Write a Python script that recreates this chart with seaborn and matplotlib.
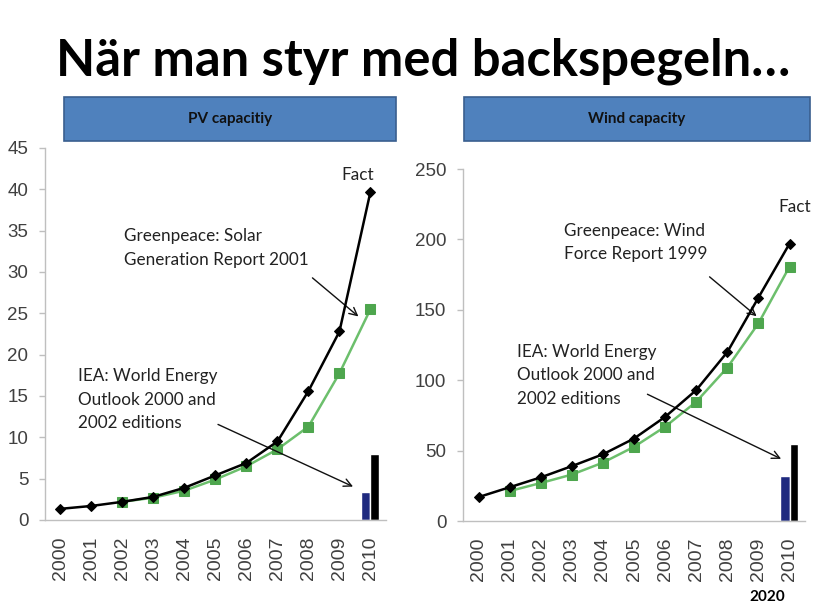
import numpy as np
import pandas as pd
import matplotlib
matplotlib.use("Agg")
import matplotlib.pyplot as plt
from matplotlib.patches import Rectangle
import seaborn as sns

# ---- data ----
years = ["2000", "2001", "2002", "2003", "2004", "2005", "2006", "2007", "2008", "2009", "2010"]
pv_fact = [1.35, 1.7, 2.2, 2.8, 3.9, 5.4, 6.9, 9.5, 15.6, 22.8, 39.7]
pv_greenpeace = [np.nan, np.nan, 2.2, 2.7, 3.55, 4.9, 6.5, 8.55, 11.3, 17.75, 25.5]
pv_iea_2010 = 3.4
pv_fact_2010_bar = 8.0

wind_fact = [17, 24, 31, 39, 47.4, 58.6, 74, 93, 120, 158.7, 197]
wind_greenpeace = [np.nan, 21.3, 27, 33, 41.5, 52.7, 67, 84.7, 109, 140.4, 180.7]
wind_iea_2010 = 32
wind_fact_2010_bar = 55

title = "När man styr med backspegeln…"
panel_titles = ["PV capacitiy", "Wind capacity"]

sns.set_theme(style="white")
plt.rcParams["font.family"] = ["Liberation Sans", "DejaVu Sans"]

BLACK = "#000000"
GREEN_LINE = "#6cbf6c"
GREEN_MARK = "#4ea64e"
NAVY = "#1f2a7f"
AX_GRAY = "#bfbfbf"
TXT = "#404040"
ANN_FONT = ["Lato", "DejaVu Sans"]
ANN_SIZE = 12.3

fig = plt.figure(figsize=(8.21, 6.05), dpi=100)
ax1 = fig.add_axes([0.0548, 0.1405, 0.4153, 0.615])
ax2 = fig.add_axes([0.564, 0.1388, 0.4166, 0.5818])

def draw_panel(ax, fact, gp, iea_bar, fact_bar, ymax, yticks):
    idx = np.arange(len(years))
    df = pd.DataFrame({"i": idx, "fact": fact, "gp": gp})
    sns.lineplot(data=df, x="i", y="gp", ax=ax, color=GREEN_LINE, lw=1.8,
                 marker="s", markersize=7.5, markerfacecolor=GREEN_MARK,
                 markeredgecolor=GREEN_MARK, zorder=3)
    sns.lineplot(data=df, x="i", y="fact", ax=ax, color=BLACK, lw=1.8,
                 marker="D", markersize=5.5, markerfacecolor=BLACK,
                 markeredgecolor=BLACK, zorder=4)
    last = idx[-1]
    ax.bar([last - 0.155], [iea_bar], width=0.31, color=NAVY, zorder=2)
    ax.bar([last + 0.14], [fact_bar], width=0.28, color=BLACK, zorder=2)
    ax.set_xlim(-0.5, len(years) - 0.5)
    ax.set_ylim(0, ymax)
    ax.set_yticks(yticks)
    ax.set_xticks(idx)
    ax.set_xticklabels(years, rotation=90)
    ax.set_xticks(np.arange(-0.5, len(years)), minor=True)
    ax.tick_params(axis="x", which="major", length=0, pad=12, labelsize=14, labelcolor=TXT)
    ax.tick_params(axis="x", which="minor", length=4, color=AX_GRAY, width=1, direction="out")
    ax.tick_params(axis="y", length=4, color=AX_GRAY, width=1, pad=8, labelsize=13.5,
                   labelcolor=TXT, direction="out", left=True)
    ax.set_xlabel("")
    ax.set_ylabel("")
    for s in ["top", "right"]:
        ax.spines[s].set_visible(False)
    for s in ["left", "bottom"]:
        ax.spines[s].set_color(AX_GRAY)
        ax.spines[s].set_linewidth(1)

draw_panel(ax1, pv_fact, pv_greenpeace, pv_iea_2010, pv_fact_2010_bar, 45, np.arange(0, 46, 5))
draw_panel(ax2, wind_fact, wind_greenpeace, wind_iea_2010, wind_fact_2010_bar, 250, np.arange(0, 251, 50))

arrow = dict(arrowstyle="->", color="#111111", lw=1.0, mutation_scale=14)
ann = dict(fontsize=ANN_SIZE, family=ANN_FONT, color="#222222")

# PV annotations
ax1.text(9.58, 41.7, "Fact", ha="center", va="center", **ann)
ax1.text(2.06, 35.3, "Greenpeace: Solar\nGeneration Report 2001", ha="left", va="top",
         linespacing=1.6, **ann)
ax1.annotate("", xy=(9.68, 24.4), xytext=(8.06, 29.5), arrowprops=arrow)
ax1.text(0.55, 18.4, "IEA: World Energy\nOutlook 2000 and\n2002 editions", ha="left", va="top",
         linespacing=1.6, **ann)
ax1.annotate("", xy=(9.52, 3.9), xytext=(5.0, 11.7), arrowprops=arrow)

# Wind annotations
ax2.text(10.15, 223, "Fact", ha="center", va="center", **ann)
ax2.text(2.74, 212, "Greenpeace: Wind\nForce Report 1999", ha="left", va="top",
         linespacing=1.6, **ann)
ax2.annotate("", xy=(9.01, 144.2), xytext=(7.36, 174.7), arrowprops=arrow)
ax2.text(1.24, 126, "IEA: World Energy\nOutlook 2000 and\n2002 editions", ha="left", va="top",
         linespacing=1.6, **ann)
ax2.annotate("", xy=(9.81, 43.3), xytext=(5.35, 90.9), arrowprops=arrow)

# Header boxes
for (x0, w), label in zip([(0.078, 0.404), (0.565, 0.421)], panel_titles):
    fig.patches.append(Rectangle((x0, 0.767), w, 0.0727, transform=fig.transFigure,
                                 facecolor="#4f81bd", edgecolor="#3a5f8f", lw=1.2, zorder=1))
    fig.text(x0 + w / 2, 0.767 + 0.0727 / 2, label, ha="center", va="center",
             fontsize=11, fontweight="bold", family=ANN_FONT, color="#111111")

# Title
fig.text(0.515, 0.898, title, ha="center", va="center", fontsize=36.5, fontweight="bold",
         family=ANN_FONT, color="#000000")

# footer text (shown small at the bottom edge)
fig.text(0.935, 0.001, "2020", ha="center", va="bottom", fontsize=11, fontweight="bold",
         family=ANN_FONT, color="#000000")

fig.savefig("out.png", dpi=100)
